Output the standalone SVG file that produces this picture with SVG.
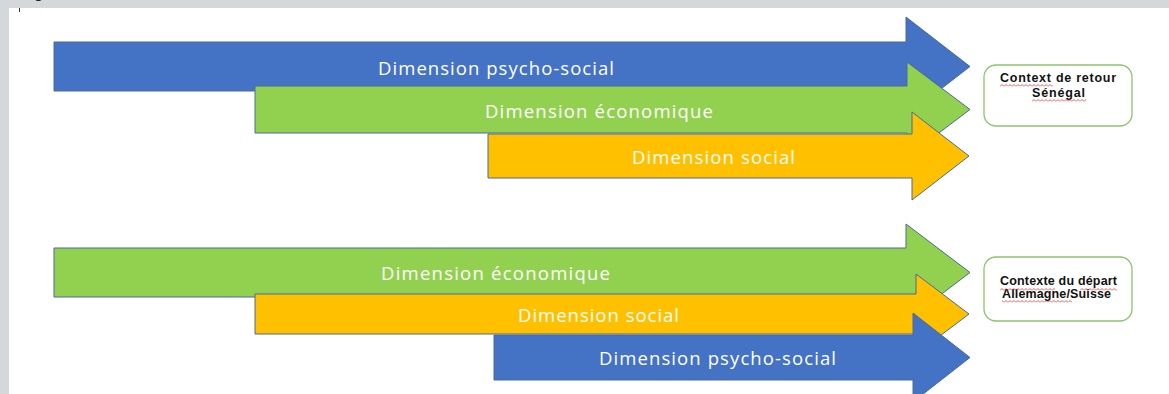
<svg xmlns="http://www.w3.org/2000/svg" width="1169" height="394" viewBox="0 0 1169 394">
  <style>
    .frame { fill: #d5d8db; }
    .arrow { stroke: #4a6a9c; stroke-width: 1; stroke-linejoin: miter; }
    .blue { fill: #4472c4; }
    .green { fill: #92d050; }
    .yellow { fill: #ffc000; }
    .label { font-family: "Open Sans", "Liberation Sans", sans-serif; font-size: 18.5px; fill: #ffffff; text-anchor: middle; }
    .box { fill: #ffffff; stroke: #8cc46a; stroke-width: 1.3; }
    .boxtext { font-family: "Liberation Sans", Arial, sans-serif; font-size: 12.5px; font-weight: 700; fill: #111111; text-anchor: middle; }
    .spell { fill: url(#squiggle); }
  </style>
  <defs>
    <!-- red wavy spell-check underline -->
    <pattern id="squiggle" x="0" y="0" width="4" height="3" patternUnits="userSpaceOnUse">
      <path d="M0,2.5 L2,0.5 L4,2.5" fill="none" stroke="#e03030" stroke-width="0.8"/>
    </pattern>
  </defs>

  <!-- page background and window frame -->
  <rect x="0" y="0" width="1169" height="394" fill="#ffffff"/>
  <rect class="frame" x="0" y="0" width="1169" height="8"/>
  <rect class="frame" x="0" y="0" width="9" height="394"/>
  <text x="34" y="-2" font-family="Liberation Sans, sans-serif" font-size="16" fill="#222">g</text>
  <line x1="19.5" y1="8" x2="19.5" y2="12" stroke="#333" stroke-width="1"/>

  <!-- upper group: return context -->
  <g id="arrow-psycho-social-1">
    <path class="arrow blue" d="M54,42 H906 V17 L970,66.5 L906,116 V91 H54 Z"/>
    <text class="label" x="496" y="67" dominant-baseline="central" textLength="236" lengthAdjust="spacing">Dimension psycho-social</text>
  </g>
  <g id="arrow-economique-1">
    <path class="arrow green" d="M255,86 H907 V62 L970,109.5 L907,157 V133 H255 Z"/>
    <text class="label" x="599" y="110" dominant-baseline="central" textLength="228" lengthAdjust="spacing">Dimension économique</text>
  </g>
  <g id="arrow-social-1">
    <path class="arrow yellow" d="M488,134 H912 V112 L969,156 L912,200 V178 H488 Z"/>
    <text class="label" x="713.5" y="156" dominant-baseline="central" textLength="163" lengthAdjust="spacing">Dimension social</text>
  </g>
  <g id="box-retour">
    <rect class="box" x="984" y="65" width="148" height="61" rx="12" ry="12"/>
    <text class="boxtext" x="1058" y="82" textLength="116" lengthAdjust="spacing">Context de retour</text>
    <text class="boxtext" x="1058.5" y="97" textLength="53" lengthAdjust="spacing">Sénégal</text>
    <rect class="spell" x="1000" y="84" width="53" height="3"/>
    <rect class="spell" x="1032" y="99" width="54" height="3"/>
  </g>

  <!-- lower group: departure context -->
  <g id="arrow-economique-2">
    <path class="arrow green" d="M54,248 H906 V224 L970,272.5 L906,321 V297 H54 Z"/>
    <text class="label" x="495.5" y="272" dominant-baseline="central" textLength="229" lengthAdjust="spacing">Dimension économique</text>
  </g>
  <g id="arrow-social-2">
    <path class="arrow yellow" d="M255,294 H916 V274 L969,314 L916,354 V334 H255 Z"/>
    <text class="label" x="598.5" y="314" dominant-baseline="central" textLength="161" lengthAdjust="spacing">Dimension social</text>
  </g>
  <g id="arrow-psycho-social-2">
    <path class="arrow blue" d="M494,335 H913 V313 L970,357.5 L913,402 V380 H494 Z"/>
    <text class="label" x="717.5" y="357" dominant-baseline="central" textLength="237" lengthAdjust="spacing">Dimension psycho-social</text>
  </g>
  <g id="box-depart">
    <rect class="box" x="984" y="257" width="148" height="64" rx="12" ry="12"/>
    <text class="boxtext" x="1058.5" y="285" textLength="117" lengthAdjust="spacing">Contexte du départ</text>
    <text class="boxtext" x="1056.5" y="298" textLength="109" lengthAdjust="spacing">Allemagne/Suisse</text>
    <rect class="spell" x="1000" y="288" width="55" height="3"/>
    <rect class="spell" x="1080" y="288" width="37" height="3"/>
    <rect class="spell" x="1002" y="300" width="70" height="3"/>
  </g>

  <!-- connectors: none drawn between nodes -->
  <g id="connectors"/>
</svg>
